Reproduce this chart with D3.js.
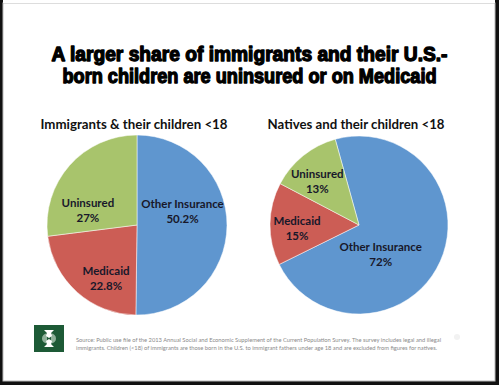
<!DOCTYPE html>
<html>
<head>
<meta charset="utf-8">
<script src="https://cdn.jsdelivr.net/npm/d3@7"></script>
<style>
  html, body { margin: 0; padding: 0; background: #fff; }
  svg { display: block; }
</style>
</head>
<body>
<div id="chart"></div>
<script>
// ---- Data ----
const titleLines = ["A larger share of immigrants and their U.S.-", "born children are uninsured or on Medicaid"];
const categories = ["Other Insurance", "Medicaid", "Uninsured"];
const immigrantValues = [50.2, 22.8, 27];
const immigrantLabels = ["50.2%", "22.8%", "27%"];
const nativeValues = [72, 15, 13];
const nativeLabels = ["72%", "15%", "13%"];
const pieTitles = ["Immigrants & their children <18", "Natives and their children <18"];
const sourceLines = [
  "Source: Public use file of the 2013 Annual Social and Economic Supplement of the Current Population Survey.  The survey includes legal and illegal",
  "immigrants.  Children (<18) of immigrants are those born in the U.S. to immigrant fathers under age 18 and are excluded from figures for natives."
];

// ---- Layout / style ----
const W = 499, H = 385;
const colors = d3.scaleOrdinal().domain(categories).range(["#5f96cf", "#cc5d55", "#a8c46c"]);
const labelFont = "Lato, 'Open Sans', sans-serif";

const svg = d3.select("#chart").append("svg").attr("width", W).attr("height", H);

// frame
svg.append("rect").attr("x", 0).attr("y", 0).attr("width", W).attr("height", H).attr("fill", "#111");
svg.append("rect").attr("x", 3).attr("y", 3).attr("width", 492).attr("height", 378)
  .attr("fill", "#fff").attr("stroke", "#bbb").attr("stroke-width", 1);
svg.append("rect").attr("x", 3).attr("y", 0).attr("width", 492).attr("height", 3).attr("fill", "#fff");

// title
const title = svg.append("g");
titleLines.forEach((t, i) => {
  title.append("text")
    .attr("x", W / 2).attr("y", 61 + i * 22)
    .attr("text-anchor", "middle")
    .attr("font-family", "'Liberation Sans', Arial, sans-serif")
    .attr("font-weight", "bold")
    .attr("font-size", 19.5)
    .attr("stroke", "#000").attr("stroke-width", 1.3)
    .attr("stroke-linejoin", "round")
    .attr("fill", "#000")
    .attr("textLength", i === 0 ? 396 : 374)
    .attr("lengthAdjust", "spacingAndGlyphs")
    .text(t);
});

// pies
const pies = [
  { values: immigrantValues, labels: immigrantLabels, title: pieTitles[0], cx: 137, cy: 225, r: 90, start: 0,
    titleX: 134, titleLen: 187,
    nudges: [[-4, -14], [2, 16], [-12, 18]] },
  { values: nativeValues, labels: nativeLabels, title: pieTitles[1], cx: 359, cy: 225, r: 89, start: -15.5,
    titleX: 356, titleLen: 177,
    nudges: [[-23, 9], [-13, 4], [-11, -6]] }
];

pies.forEach(p => {
  const data = categories.map((c, i) => ({ cat: c, value: p.values[i], label: p.labels[i], nudge: p.nudges[i] }));
  const start = p.start * Math.PI / 180;
  const pie = d3.pie().value(d => d.value).sort(null)
    .startAngle(start).endAngle(start + 2 * Math.PI);
  const arcs = pie(data);
  const arc = d3.arc().innerRadius(0).outerRadius(p.r);
  const labelArc = d3.arc().innerRadius(p.r * 0.55).outerRadius(p.r * 0.55);

  const g = svg.append("g").attr("transform", `translate(${p.cx},${p.cy})`);
  g.selectAll("path.slice").data(arcs).enter().append("path")
    .attr("class", "slice")
    .attr("d", arc)
    .attr("fill", d => colors(d.data.cat))
    .attr("stroke", "#fff").attr("stroke-width", 0.5);

  const lg = g.selectAll("g.lbl").data(arcs).enter().append("g")
    .attr("class", "lbl")
    .attr("transform", d => {
      const c = labelArc.centroid(d);
      return `translate(${c[0] + d.data.nudge[0]},${c[1] + d.data.nudge[1]})`;
    });
  lg.append("text").attr("y", -3).attr("text-anchor", "middle")
    .attr("font-family", labelFont).attr("font-weight", "bold").attr("font-size", 11.5)
    .attr("fill", "#18182a").text(d => d.data.cat);
  lg.append("text").attr("y", 12).attr("text-anchor", "middle")
    .attr("font-family", labelFont).attr("font-weight", "bold").attr("font-size", 11.5)
    .attr("fill", "#18182a").text(d => d.data.label);

  svg.append("text")
    .attr("x", p.titleX).attr("y", 129)
    .attr("text-anchor", "middle")
    .attr("font-family", labelFont).attr("font-weight", "bold").attr("font-size", 14)
    .attr("fill", "#111")
    .attr("textLength", p.titleLen).attr("lengthAdjust", "spacingAndGlyphs")
    .text(p.title);
});

// logo
const logo = svg.append("g").attr("transform", "translate(34,325)");
logo.append("rect").attr("width", 30).attr("height", 27).attr("fill", "#1d5a36");
logo.append("path").attr("d", "M8,13.5 A5,5 0 0 1 13,8.5 L13,18.5 A5,5 0 0 1 8,13.5 Z").attr("fill", "#8fb09a");
logo.append("path").attr("d", "M22,13.5 A5,5 0 0 0 17,8.5 L17,18.5 A5,5 0 0 0 22,13.5 Z").attr("fill", "#8fb09a");
logo.append("path").attr("d", "M10,5 L20,5 L17,8 L18,11 L15,13 L12,11 L13,8 Z").attr("fill", "#fff");
logo.append("path").attr("d", "M10,22 L20,22 L17,19 L18,16 L15,14 L12,16 L13,19 Z").attr("fill", "#fff");

// source
sourceLines.forEach((t, i) => {
  svg.append("text")
    .attr("x", 76).attr("y", 342 + i * 8)
    .attr("font-family", labelFont).attr("font-size", 6)
    .attr("fill", "#8a8a8a")
    .attr("textLength", i === 0 ? 365 : 361).attr("lengthAdjust", "spacingAndGlyphs")
    .text(t);
});

// slide number placeholder
svg.append("circle").attr("cx", 457).attr("cy", 337).attr("r", 3).attr("fill", "#f2f2f2");
</script>
</body>
</html>
